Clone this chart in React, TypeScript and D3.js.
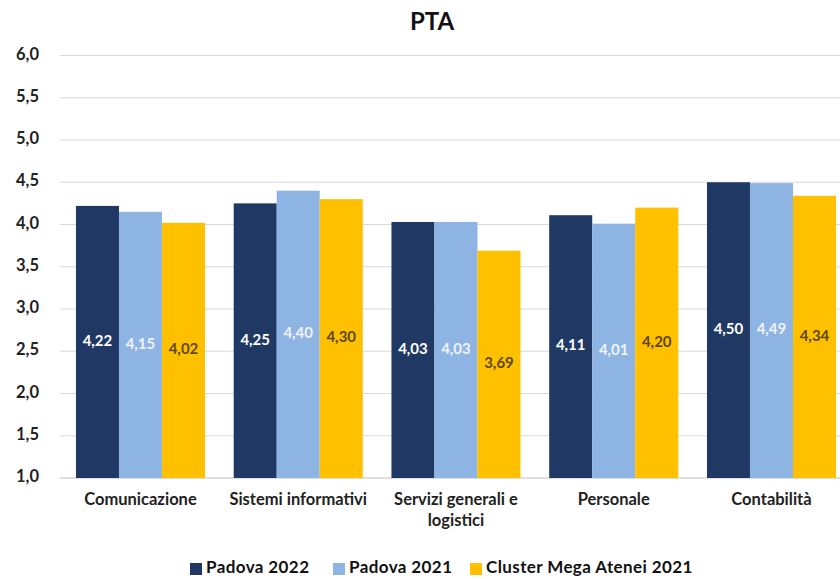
import React from "react";
import * as d3 from "d3";

const categories = ["Comunicazione", "Sistemi informativi", "Servizi generali e logistici", "Personale", "Contabilità"];
const categoryLines = [["Comunicazione"], ["Sistemi informativi"], ["Servizi generali e", "logistici"], ["Personale"], ["Contabilità"]];
const seriesNames = ["Padova 2022", "Padova 2021", "Cluster Mega Atenei 2021"];
const padova2022 = [4.22, 4.25, 4.03, 4.11, 4.5];
const padova2021 = [4.15, 4.4, 4.03, 4.01, 4.49];
const cluster2021 = [4.02, 4.3, 3.69, 4.2, 4.34];
const yTicks = [1.0, 1.5, 2.0, 2.5, 3.0, 3.5, 4.0, 4.5, 5.0, 5.5, 6.0];

const colors = ["#1F3864", "#8EB4E3", "#FFC000"];
const labelColors = ["#FFFFFF", "#EEF3FA", "#5E4800"];
const FONT = "Lato, 'Open Sans', sans-serif";

export default function App() {
  const W = 840, H = 579;
  const x0 = 61.6, x1 = 61.6 + 5 * 157.75;
  const yTop = 55.5, yBase = 478;
  const series = [padova2022, padova2021, cluster2021];
  const x = d3.scaleBand<string>().domain(categories).range([x0, x1]).paddingInner(0.182).paddingOuter(0.091);
  const xs = d3.scaleBand<number>().domain([0, 1, 2]).range([0, x.bandwidth()]).padding(0);
  const y = d3.scaleLinear().domain([1, 6]).range([yBase, yTop]);
  const fmt = (v: number, d: number) => v.toFixed(d).replace(".", ",");

  const legendX = [190, 333, 470];
  return (
    <svg width={W} height={H} style={{ position: "absolute", left: 0, top: 0, background: "#fff" }} fontFamily={FONT}>
      <rect x={0} y={0} width={W} height={H} fill="#fff" />
      <text x={432} y={24} textAnchor="middle" dominantBaseline="middle" fontSize={24} fontWeight="bold" fill="#111">PTA</text>
      {yTicks.map((t) => (
        <g key={t}>
          <line x1={60} x2={W} y1={y(t)} y2={y(t)} stroke={t === 1 ? "#BFBFBF" : "#D9D9D9"} strokeWidth={1.2} />
          <text x={39} y={y(t)} textAnchor="end" dominantBaseline="middle" fontSize={16.5} fontWeight="bold" fill="#222">{fmt(t, 1)}</text>
        </g>
      ))}
      {categories.map((c, ci) => (
        <g key={c}>
          {series.map((s, si) => {
            const bx = (x(c) as number) + (xs(si) as number);
            const by = y(s[ci]);
            return (
              <g key={si}>
                <rect x={bx} y={by} width={xs.bandwidth()} height={yBase - by} fill={colors[si]} />
                <text x={bx + xs.bandwidth() / 2} y={(by + yBase) / 2} textAnchor="middle" dominantBaseline="middle" fontSize={15} fontWeight="bold" fill={labelColors[si]}>{fmt(s[ci], 2)}</text>
              </g>
            );
          })}
          {categoryLines[ci].map((ln, li) => (
            <text key={li} x={(x(c) as number) + x.bandwidth() / 2} y={501 + li * 21} textAnchor="middle" dominantBaseline="middle" fontSize={16.5} fontWeight="bold" fill="#222">{ln}</text>
          ))}
        </g>
      ))}
      {seriesNames.map((n, i) => (
        <g key={n}>
          <rect x={legendX[i]} y={563} width={12} height={12} fill={colors[i]} />
          <text x={legendX[i] + 16} y={569} dominantBaseline="middle" fontSize={17} fontWeight="bold" fill="#111" letterSpacing={0.4}>{n}</text>
        </g>
      ))}
    </svg>
  );
}
